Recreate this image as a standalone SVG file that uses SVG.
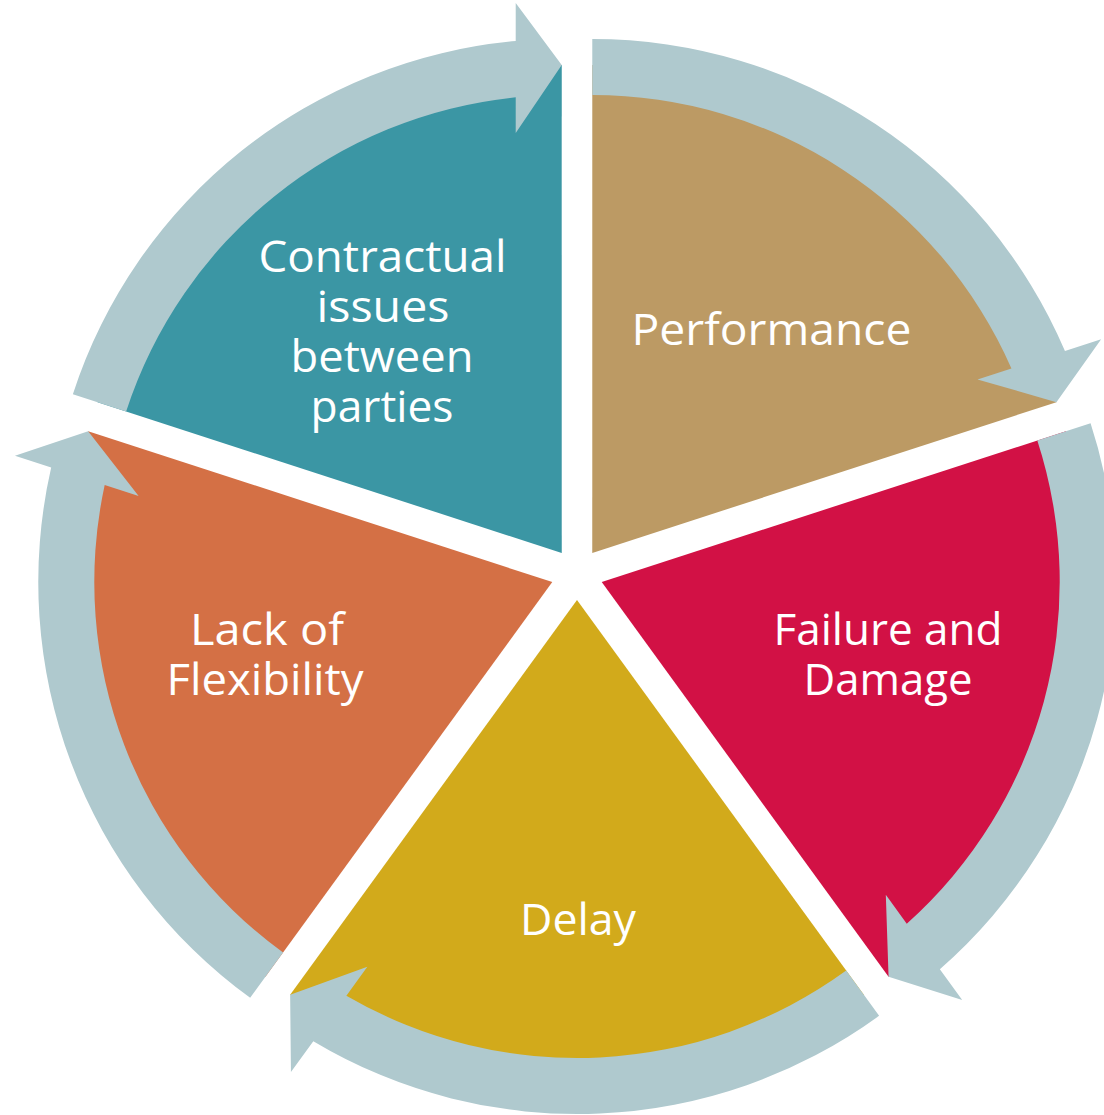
<svg xmlns="http://www.w3.org/2000/svg" xmlns:xlink="http://www.w3.org/1999/xlink" width="1104" height="1115" viewBox="0 0 1104 1115">
  <style>
    .label { font-family: "Open Sans", "Liberation Sans", sans-serif; font-size: 44px; fill: #FFFFFF; text-anchor: middle; font-variant-ligatures: none; }
    .ring { fill: #AFC9CE; }
    .perf { fill: #BC9A64; }
    .fail { fill: #D21145; }
    .delay { fill: #D2AA1B; }
    .lack { fill: #D47045; }
    .contr { fill: #3B96A4; }
  </style>
  <defs>
    <path id="wedge" d="M0,0 L0,-488 A488,488 0 0 1 464.12,-150.80 Z"/>
    <path id="ringArrow" d="M0,-458 L0,-514 A514,514 0 0 1 472.67,-201.95 L508.87,-213.71 L464.12,-150.80 L385.23,-173.54 L419.16,-184.56 A458,458 0 0 0 0,-458 Z"/>
  </defs>
  <rect width="1104" height="1115" fill="#FFFFFF"/>

  <g id="node-performance">
    <use xlink:href="#wedge" href="#wedge" class="perf" transform="translate(577 574) rotate(0) translate(15.28 -21.03)"/>
    <text class="label" x="771.5" y="345" textLength="280" lengthAdjust="spacingAndGlyphs">Performance</text>
  </g>
  <g id="node-failure-damage">
    <use xlink:href="#wedge" href="#wedge" class="fail" transform="translate(577 574) rotate(72) translate(15.28 -21.03)"/>
    <text class="label" x="888" y="645" textLength="229" lengthAdjust="spacingAndGlyphs">Failure and</text>
    <text class="label" x="888" y="695" textLength="169" lengthAdjust="spacingAndGlyphs">Damage</text>
  </g>
  <g id="node-delay">
    <use xlink:href="#wedge" href="#wedge" class="delay" transform="translate(577 574) rotate(144) translate(15.28 -21.03)"/>
    <text class="label" x="578" y="935" textLength="116" lengthAdjust="spacingAndGlyphs">Delay</text>
  </g>
  <g id="node-lack-flexibility">
    <use xlink:href="#wedge" href="#wedge" class="lack" transform="translate(577 574) rotate(216) translate(15.28 -21.03)"/>
    <text class="label" x="267" y="645" textLength="154" lengthAdjust="spacingAndGlyphs">Lack of</text>
    <text class="label" x="265" y="695" textLength="197" lengthAdjust="spacingAndGlyphs">Flexibility</text>
  </g>
  <g id="node-contractual">
    <use xlink:href="#wedge" href="#wedge" class="contr" transform="translate(577 574) rotate(288) translate(15.28 -21.03)"/>
    <text class="label" x="382.5" y="271.5" textLength="248" lengthAdjust="spacingAndGlyphs">Contractual</text>
    <text class="label" x="383" y="321.5" textLength="133" lengthAdjust="spacingAndGlyphs">issues</text>
    <text class="label" x="382" y="371.5" textLength="183" lengthAdjust="spacingAndGlyphs">between</text>
    <text class="label" x="382" y="421.5" textLength="143" lengthAdjust="spacingAndGlyphs">parties</text>
  </g>

  <g id="connectors">
    <use xlink:href="#ringArrow" href="#ringArrow" class="ring" transform="translate(577 574) rotate(0) translate(15.28 -21.03)"/>
    <use xlink:href="#ringArrow" href="#ringArrow" class="ring" transform="translate(577 574) rotate(72) translate(15.28 -21.03)"/>
    <use xlink:href="#ringArrow" href="#ringArrow" class="ring" transform="translate(577 574) rotate(144) translate(15.28 -21.03)"/>
    <use xlink:href="#ringArrow" href="#ringArrow" class="ring" transform="translate(577 574) rotate(216) translate(15.28 -21.03)"/>
    <use xlink:href="#ringArrow" href="#ringArrow" class="ring" transform="translate(577 574) rotate(288) translate(15.28 -21.03)"/>
  </g>
</svg>
